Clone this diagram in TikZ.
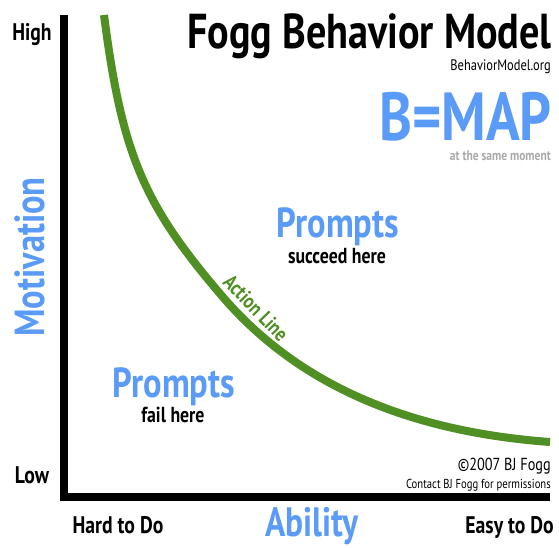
\documentclass[tikz,border=0pt]{standalone}
\usepackage{fontspec}
\setmainfont{PT Sans}[FakeStretch=0.82]
\definecolor{fbgreen}{RGB}{80,143,35}
\definecolor{fbblue}{RGB}{90,155,247}
\definecolor{fbgray}{RGB}{170,170,170}
\tikzset{
  lbl/.style={inner sep=0pt, font=\bfseries\fontsize{24}{24}\selectfont},
  bluebig/.style={inner sep=0pt, text=fbblue, font=\bfseries\fontsize{42}{42}\selectfont},
  sub/.style={inner sep=0pt, font=\bfseries\fontsize{21.7}{21.7}\selectfont},
}
\begin{document}
\begin{tikzpicture}[x=1pt,y=-1pt]
\useasboundingbox (0,0) rectangle (559,547);
% axes
\draw[line width=8pt, line join=miter] (64,15) -- (64,497) -- (550,497);
% action line
\coordinate (c0) at (104,15);
\coordinate (c1) at (222,296);
\coordinate (c2) at (550,442);
\draw[fbgreen, line width=8pt] (c0) .. controls (122,155) and (144,205) .. (c1)
  .. controls (293.5,379.6) and (400,431) .. (c2);
% title
\node[inner sep=0pt, anchor=base east, font=\bfseries\fontsize{49}{49}\selectfont] (title) at (552,48) {Fogg Behavior Model};
\node[inner sep=0pt, anchor=base east, font=\fontsize{15.2}{15.2}\selectfont] (url) at (551,70) {BehaviorModel.org};
\node[inner sep=0pt, anchor=base east, text=fbblue, font=\bfseries\fontsize{68}{68}\selectfont] (bmap) at (552,140) {B=MAP};
\node[inner sep=0pt, anchor=base east, text=fbgray, font=\bfseries\fontsize{14}{14}\selectfont] (same) at (551,160) {at the same moment};
% axis labels
\node[lbl, anchor=base] (high) at (32,40) {High};
\node[lbl, anchor=base] (low) at (32,483) {Low};
\node[lbl, anchor=base] (hard) at (118,533) {Hard to Do};
\node[lbl, anchor=base east] (easy) at (554,533) {Easy to Do};
\node[inner sep=0pt, anchor=base, text=fbblue, font=\bfseries\fontsize{41}{41}\selectfont] (ability) at (312,536) {Ability};
\node[inner sep=0pt, anchor=base, rotate=90, text=fbblue, font=\bfseries\fontsize{42}{42}\selectfont] (motiv) at (44,257) {Motivation};
% regions
\node[bluebig, anchor=base] (p1) at (338,237) {Prompts};
\node[sub, anchor=base] (succ) at (337,263) {succeed here};
\node[bluebig, anchor=base] (p2) at (174,397) {Prompts};
\node[sub, anchor=base] (fail) at (173,422) {fail here};
\node[inner sep=0pt, rotate=-46, text=fbgreen, font=\bfseries\fontsize{21}{21}\selectfont] (al) at (256,308) {Action Line};
% copyright
\node[inner sep=0pt, anchor=base east, font=\fontsize{17.4}{17.4}\selectfont] (copy) at (551,470) {©2007 BJ Fogg};
\node[inner sep=0pt, anchor=base east, font=\fontsize{13}{13}\selectfont] (contact) at (551,488) {Contact BJ Fogg for permissions};
\end{tikzpicture}
\end{document}
